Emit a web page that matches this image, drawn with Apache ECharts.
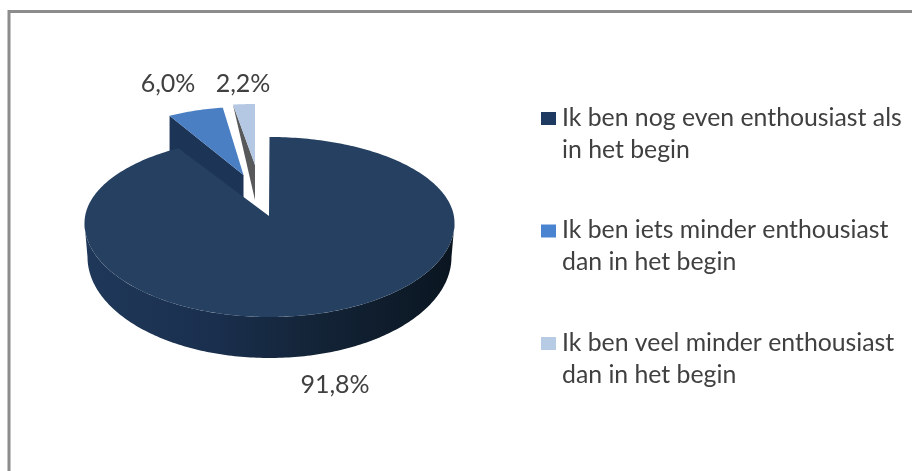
<!DOCTYPE html>
<html>
<head>
<meta charset="utf-8">
<style>
html, body { margin: 0; padding: 0; background: #fff; }
#chart { width: 912px; height: 471px; }
</style>
</head>
<body>
<div id="chart"></div>
<script src="https://cdn.jsdelivr.net/npm/echarts@6/dist/echarts.min.js"></script>
<script>
const categories = [
    'Ik ben nog even enthousiast als\nin het begin',
    'Ik ben iets minder enthousiast\ndan in het begin',
    'Ik ben veel minder enthousiast\ndan in het begin'
];
const values = [91.8, 6.0, 2.2];
const colors = ['#254061', '#4a7fc4', '#b5c8e3'];
const legendColors = ['#1f3a60', '#4a84d0', '#b7cbe4'];

// how each exploded slice is seen: apex, ellipse centre, radii, wall height
const views = [
    { ax: 269, ay: 216, ex: 269.5, ey: 223, rx: 185, ryTop: 86, ryBottom: 94, labelX: 335, labelY: 385 },
    { ax: 243.5, ay: 175, ex: 243.5, ey: 175, rx: 150, ryTop: 68, ryBottom: 68, wallOuter: 35, wallApex: 25, wall: '#1c3557', labelX: 168, labelY: 84 },
    { ax: 255, ay: 165, ex: 255, ey: 165, rx: 160, ryTop: 61, ryBottom: 61, wallOuter: 0, wallApex: 35, wall: '#58595b', labelX: 243, labelY: 84 }
];

const total = values.reduce((a, b) => a + b, 0);

const onEllipse = (v, deg) => {
    const rad = deg * Math.PI / 180;
    const c = Math.cos(rad);
    return [v.ex + v.rx * Math.sin(rad), v.ey - (c > 0 ? v.ryTop : v.ryBottom) * c];
};

const sliceAngles = (idx) => {
    let start = 0;
    for (let i = 0; i < idx; i++) start += values[i] / total * 360;
    return [start, start + values[idx] / total * 360];
};

const arc = (fn, from, to) => {
    const pts = [];
    const n = Math.max(2, Math.ceil(Math.abs(to - from)));
    for (let i = 0; i <= n; i++) pts.push(fn(from + (to - from) * i / n));
    return pts;
};

const renderSlice = (idx) => (params, api) => {
    const v = views[idx];
    const [a0, a1] = sliceAngles(idx);
    const children = [];
    if (idx === 0) {
        // front wall of the big slice
        const top = arc(d => onEllipse(v, d), 90, 270);
        const bottom = arc(d => {
            const rad = d * Math.PI / 180;
            return [v.ex + 182 * Math.sin(rad), 257 - 101 * Math.cos(rad)];
        }, 270, 90);
        children.push({
            type: 'polygon',
            shape: { points: top.concat(bottom) },
            style: {
                fill: {
                    type: 'linear', x: 0, y: 0, x2: 1, y2: 0,
                    colorStops: [
                        { offset: 0, color: '#1f3859' },
                        { offset: 0.35, color: '#1a2f4e' },
                        { offset: 0.6, color: '#142539' },
                        { offset: 1, color: '#0a1520' }
                    ]
                }
            }
        });
    } else {
        // left wall of the pulled out slices
        const outer = onEllipse(v, a0);
        children.push({
            type: 'polygon',
            shape: {
                points: [
                    outer,
                    [v.ax, v.ay],
                    [v.ax, v.ay + v.wallApex],
                    [outer[0], outer[1] + v.wallOuter]
                ]
            },
            style: { fill: v.wall }
        });
    }
    children.push({
        type: 'polygon',
        shape: { points: [[v.ax, v.ay]].concat(arc(d => onEllipse(v, d), a0, a1)) },
        style: { fill: colors[idx] }
    });
    children.push({
        type: 'text',
        style: {
            text: api.value(0).toFixed(1).replace('.', ',') + '%',
            x: v.labelX,
            y: v.labelY,
            align: 'center',
            verticalAlign: 'middle',
            fill: '#404040',
            font: '25px Lato'
        }
    });
    return { type: 'group', children: children };
};

const chart = echarts.init(document.getElementById('chart'));
chart.setOption({
    animation: false,
    backgroundColor: '#fff',
    legend: {
        orient: 'vertical',
        left: 541,
        top: 102,
        padding: 0,
        itemGap: 48.5,
        itemWidth: 16,
        itemHeight: 64,
        selectedMode: false,
        icon: 'path://M0 0L16 0ZM0 10H15V23H0ZM0 64L16 64Z',
        textStyle: { fontFamily: 'Lato', fontSize: 24.8, color: '#404040', lineHeight: 32 },
        data: categories
    },
    graphic: [{
        type: 'polyline',
        shape: { points: [[9, 471], [9, 11.5], [912, 11.5]] },
        style: { stroke: '#8c8c8c', lineWidth: 3, fill: null },
        silent: true
    }],
    series: categories.map((name, i) => ({
        type: 'custom',
        name: name,
        coordinateSystem: 'none',
        z: i === 0 ? 3 : 2,
        silent: true,
        itemStyle: { color: legendColors[i] },
        renderItem: renderSlice(i),
        encode: { value: 0 },
        data: [[values[i]]]
    }))
});
</script>
</body>
</html>
